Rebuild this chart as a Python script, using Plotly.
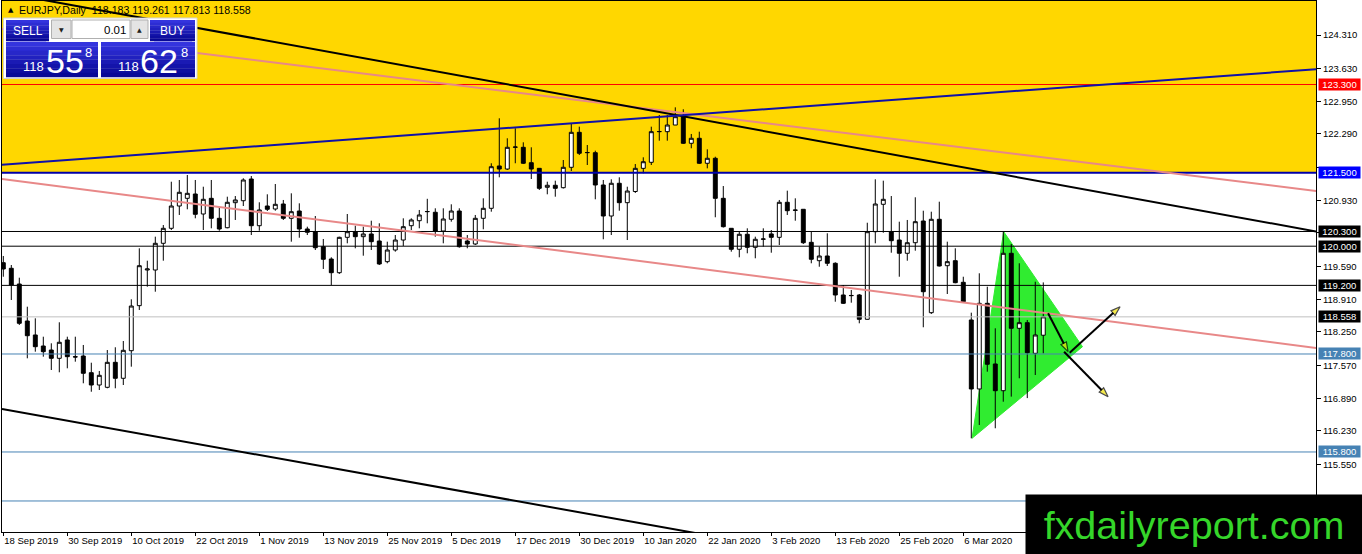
import plotly.graph_objects as go
import pandas as pd

# ---------------- data ----------------
holidays = ["2019-12-25", "2020-01-01"]
dates = [d for d in pd.bdate_range("2019-09-18", "2020-03-20")
         if d.strftime("%Y-%m-%d") not in holidays]

opens = [119.663, 119.549, 119.228, 118.473, 118.188, 117.963, 117.881, 117.712, 118.086, 117.745,
         117.759, 117.418, 117.167, 117.120, 117.630, 117.304, 117.867, 118.786, 119.514, 119.514,
         120.059, 120.365, 120.820, 120.977, 121.065, 120.657, 120.977, 120.569, 120.377, 120.888,
         120.928, 121.371, 120.418, 120.820, 120.759, 120.861, 120.569, 120.718, 120.351, 120.296,
         119.990, 119.738, 119.459, 120.181, 120.296, 120.194, 120.249, 120.106, 119.684, 119.922,
         120.126, 120.418, 120.520, 120.704, 120.692, 120.310, 120.549, 120.718, 120.106, 120.045,
         120.569, 120.773, 121.637, 121.575, 122.018, 122.018, 121.704, 121.589, 121.202, 121.243,
         121.194, 121.610, 122.324, 121.908, 121.908, 121.249, 120.616, 121.284, 120.888, 121.116,
         121.589, 121.712, 122.337, 122.337, 122.473, 122.643, 122.100, 122.202, 121.692, 121.794,
         120.977, 120.365, 119.937, 120.243, 119.977, 120.141, 120.250, 120.181, 120.896, 120.739,
         120.753, 120.079, 119.704, 119.800, 119.651, 119.004, 118.990, 119.004, 118.508, 120.296,
         120.855, 120.296, 120.126, 119.855, 120.071, 120.514, 118.643, 120.549, 119.602, 119.704,
         119.263, 118.494, 117.086, 118.834, 117.596, 117.051, 119.855, 118.324, 118.439, 117.814,
         118.183]
highs = [119.800, 119.616, 119.357, 118.765, 118.528, 118.153, 118.018, 118.447, 118.153, 118.153,
         117.984, 117.622, 117.453, 117.881, 117.937, 118.065, 118.916, 119.957, 119.704, 120.194,
         120.432, 121.316, 121.351, 121.453, 121.351, 121.214, 121.351, 120.800, 121.010, 121.024,
         121.386, 121.432, 120.896, 121.059, 121.269, 120.943, 121.079, 120.875, 120.398, 120.616,
         120.147, 119.773, 120.194, 120.657, 120.418, 120.398, 120.520, 120.467, 120.092, 120.228,
         120.569, 120.569, 120.739, 120.967, 120.773, 120.773, 120.855, 120.773, 120.228, 120.637,
         120.977, 121.692, 122.610, 122.202, 122.406, 122.120, 122.018, 121.596, 121.316, 121.337,
         121.759, 122.508, 122.439, 122.065, 121.949, 121.351, 121.365, 121.406, 121.214, 121.677,
         121.814, 122.439, 122.677, 122.677, 122.834, 122.794, 122.290, 122.337, 121.977, 121.826,
         121.228, 120.365, 120.310, 120.365, 120.194, 120.365, 120.330, 120.943, 121.133, 120.977,
         120.753, 120.296, 119.990, 120.263, 119.671, 119.208, 119.106, 119.024, 120.479, 121.365,
         121.337, 121.024, 120.500, 120.535, 120.998, 120.724, 120.704, 120.908, 120.092, 119.957,
         119.377, 118.643, 119.447, 119.173, 118.324, 120.296, 120.045, 119.651, 118.494, 119.275,
         119.261]
lows = [119.377, 118.902, 118.392, 117.712, 117.847, 117.745, 117.473, 117.426, 117.508, 117.643,
        117.202, 117.030, 117.065, 117.100, 117.100, 117.167, 117.541, 118.698, 119.173, 119.071,
        119.704, 120.330, 120.637, 120.753, 120.569, 120.330, 120.365, 120.316, 120.365, 120.535,
        120.820, 120.228, 120.316, 120.718, 120.724, 120.535, 120.092, 120.173, 120.228, 119.922,
        119.535, 119.208, 119.433, 120.059, 119.957, 119.806, 119.922, 119.616, 119.651, 119.888,
        120.004, 120.330, 120.365, 120.467, 120.194, 120.059, 120.500, 119.969, 119.957, 120.024,
        120.345, 120.704, 121.406, 121.555, 121.692, 121.677, 121.371, 121.147, 121.059, 121.010,
        121.177, 121.535, 121.861, 121.657, 120.957, 120.141, 120.228, 120.724, 120.126, 121.086,
        121.488, 121.657, 122.153, 122.153, 122.473, 122.086, 121.998, 121.677, 121.589, 120.590,
        120.381, 119.888, 119.773, 119.855, 119.753, 119.990, 119.867, 120.024, 120.637, 120.520,
        120.045, 119.651, 119.581, 119.596, 118.867, 118.820, 118.847, 118.426, 118.504, 120.059,
        120.275, 119.867, 119.377, 119.704, 119.908, 118.345, 118.616, 119.586, 119.024, 119.243,
        118.847, 116.079, 116.351, 117.439, 116.284, 116.826, 116.930, 117.304, 116.900, 117.371,
        117.813]
closes = [119.535, 119.208, 118.426, 118.173, 117.949, 117.847, 117.712, 118.039, 117.745, 117.739,
          117.406, 117.167, 117.365, 117.630, 117.304, 117.875, 118.779, 119.602, 119.535, 120.059,
          120.365, 120.820, 121.100, 121.079, 120.651, 120.957, 120.569, 120.351, 120.896, 120.943,
          121.351, 120.418, 120.739, 120.753, 120.855, 120.569, 120.704, 120.351, 120.284, 119.969,
          119.733, 119.459, 120.181, 120.296, 120.194, 120.249, 120.092, 119.637, 119.922, 120.126,
          120.398, 120.535, 120.637, 120.708, 120.310, 120.555, 120.718, 119.990, 120.045, 120.569,
          120.773, 121.622, 121.575, 122.018, 122.024, 121.692, 121.575, 121.181, 121.243, 121.181,
          121.610, 122.324, 121.896, 121.912, 121.249, 120.616, 121.284, 120.888, 121.126, 121.589,
          121.724, 122.337, 122.340, 122.473, 122.643, 122.100, 122.202, 121.692, 121.794, 120.977,
          120.398, 119.937, 120.243, 119.977, 120.141, 120.147, 120.181, 120.896, 120.724, 120.733,
          120.071, 119.733, 119.800, 119.651, 119.004, 118.834, 118.994, 118.508, 120.296, 120.861,
          120.957, 120.112, 119.855, 120.071, 120.500, 119.071, 120.549, 119.596, 119.684, 119.255,
          118.867, 117.086, 118.834, 117.590, 117.051, 119.855, 118.324, 118.439, 117.826, 118.188,
          118.558]

bar_index = list(range(len(dates)))
date_tick_index = bar_index[::8][:16]
date_tick_text = [f"{dates[i].day} {dates[i].strftime('%b %Y')}" for i in date_tick_index]

y_tick_values = [124.310, 123.630, 122.950, 122.290, 121.610, 120.930, 120.270, 119.590,
                 118.910, 118.250, 117.570, 116.890, 116.230, 115.550, 114.870]
y_ticks_hidden = [121.610, 120.270, 114.870]   # covered by the level labels in the original

level_prices = [123.300, 121.500, 120.300, 120.000, 119.200, 118.558, 117.800, 115.800, 114.800]
level_line_colors = ["#FF0000", "#0000A8", "#000000", "#000000", "#000000", "#C0C0C0",
                     "#4682B4", "#4682B4", "#4682B4"]
level_line_widths = [1, 2, 1, 1, 1, 1, 1, 1, 1]
level_label_colors = ["#FF0000", "#0000FF", "#000000", "#000000", "#000000", "#000000",
                      "#4682B4", "#4682B4", "#4682B4"]
level_label_covered = [False] * 8 + [True]   # last one sits behind the logo

zone_bottom = 121.500
zone_top = 125.5

# trend lines: (index0, price0, index1, price1)
trend_blue = [-0.16, 121.663, 164.1, 123.612]
trend_black_upper = [-0.16, 125.179, 164.1, 120.300]
trend_black_lower = [-0.16, 116.677, 164.1, 111.880]
trend_pink_upper = [-0.16, 124.432, 164.1, 121.126]
trend_pink_lower = [-0.16, 121.371, 164.1, 117.924]

triangle_x = [121.09, 125.05, 134.9]
triangle_y = [116.079, 120.296, 117.949]

arrows = [
    [130.6, 118.630, 133.1, 117.847],
    [133.3, 117.826, 139.6, 118.765],
    [132.6, 117.847, 138.1, 116.928],
]

x_range = [-0.1625, 164.09]
y_range = [114.167, 125.004]

# ---------------- layout geometry (pixels) ----------------
W, H = 1362, 554
PL, PR, PT, PB = 2, 1316, 1, 532
FONT = "Liberation Sans, Arial, sans-serif"


def xp(x):
    return (x - PL) / (PR - PL)


def yp(y):
    return (PB - y) / (PB - PT)


fig = go.Figure()

# horizontal levels
for p, c, w in zip(level_prices, level_line_colors, level_line_widths):
    fig.add_trace(go.Scatter(x=x_range, y=[p, p], mode="lines",
                             line=dict(color=c, width=w), hoverinfo="skip"))

# trend lines
for tl, c, w in [(trend_pink_upper, "#E88888", 2), (trend_pink_lower, "#E88888", 2),
                 (trend_black_upper, "#000000", 2), (trend_black_lower, "#000000", 2),
                 (trend_blue, "#1010A8", 2)]:
    fig.add_trace(go.Scatter(x=[tl[0], tl[2]], y=[tl[1], tl[3]], mode="lines",
                             line=dict(color=c, width=w), hoverinfo="skip"))

# candles
fig.add_trace(go.Candlestick(
    x=bar_index, open=opens, high=highs, low=lows, close=closes,
    increasing=dict(line=dict(color="#000000", width=1), fillcolor="#FFFFFF"),
    decreasing=dict(line=dict(color="#000000", width=1), fillcolor="#000000"),
    whiskerwidth=0, hoverinfo="skip"))

# arrows
for a in arrows:
    fig.add_trace(go.Scatter(
        x=[a[0], a[2]], y=[a[1], a[3]], mode="lines+markers",
        line=dict(color="#000000", width=2),
        marker=dict(symbol="arrow", size=[0, 10], angleref="previous",
                    color="#F2E200", line=dict(color="#000000", width=1.2)),
        hoverinfo="skip"))

shapes = []
# yellow zone
shapes.append(dict(type="rect", xref="paper", yref="y", x0=0, x1=1,
                   y0=zone_bottom, y1=zone_top, fillcolor="#FFD700",
                   line=dict(width=0), layer="below"))
# green triangle (behind candles)
tri_path = "M " + " L ".join(f"{x},{y}" for x, y in zip(triangle_x, triangle_y)) + " Z"
shapes.append(dict(type="path", xref="x", yref="y", path=tri_path,
                   fillcolor="#30EC30", line=dict(color="#30EC30", width=1), layer="below"))

# one-click trading panel
def prect(x0, y0, x1, y1, fill, line_color=None, lw=0):
    shapes.append(dict(type="rect", xref="paper", yref="paper",
                       x0=xp(x0), x1=xp(x1), y0=yp(y1), y1=yp(y0),
                       fillcolor=fill,
                       line=dict(color=line_color or fill, width=lw), layer="above"))


def blue_box(x0, y0, x1, y1, n=8):
    top = (52, 52, 222)
    bot = (8, 8, 150)
    h = (y1 - y0) / n
    for k in range(n):
        t = k / (n - 1)
        c = tuple(int(top[j] + (bot[j] - top[j]) * t) for j in range(3))
        prect(x0, y0 + k * h, x1, y0 + (k + 1) * h + 0.3, "rgb(%d,%d,%d)" % c)


prect(3.5, 18, 197, 78.5, "#FFFFFF", "#D0D0D0", 1)
blue_box(6, 20, 49, 41)
blue_box(150, 20, 195, 41)
blue_box(6, 42, 98, 77)
blue_box(101, 42, 195, 77)
prect(51.5, 20, 71, 38.5, "#E4E4E4", "#B0B0B0", 1)
prect(72, 20, 130, 38.5, "#FFFFFF", "#B0B0B0", 1)
prect(131, 20, 148, 38.5, "#E4E4E4", "#B0B0B0", 1)
shapes.append(dict(type="line", xref="paper", yref="paper", x0=xp(10), x1=xp(46),
                   y0=yp(41.5), y1=yp(41.5), line=dict(color="#9090E8", width=1),
                   layer="above"))
shapes.append(dict(type="line", xref="paper", yref="paper", x0=xp(154), x1=xp(192),
                   y0=yp(41.5), y1=yp(41.5), line=dict(color="#9090E8", width=1),
                   layer="above"))

annotations = []


def ptext(x, y, text, size, color="#FFFFFF", xanchor="center", family=FONT):
    annotations.append(dict(xref="paper", yref="paper", x=xp(x), y=yp(y), text=text,
                            showarrow=False, xanchor=xanchor, yanchor="middle",
                            font=dict(family=family, size=size, color=color)))


# header
last_ohlc = f"{opens[-1]:.3f} {highs[-1]:.3f} {lows[-1]:.3f} {closes[-1]:.3f}"
ptext(6, 10, "▲", 7, "#000000", "left", "DejaVu Sans")
ptext(17, 10, "EURJPY,Daily&nbsp;&nbsp;" + last_ohlc, 10.6, "#000000", "left")

bid = 118.558
ask = 118.628
bid_s = f"{bid:.3f}"
ask_s = f"{ask:.3f}"
ptext(27.5, 30.5, "SELL", 12)
ptext(172.5, 30.5, "BUY", 12)
ptext(61.5, 29.5, "▼", 6, "#202020", family="DejaVu Sans")
ptext(139.5, 29.5, "▲", 6, "#202020", family="DejaVu Sans")
ptext(128, 29.5, "0.01", 11.5, "#000000", "right")
ptext(33.5, 66.5, bid_s[:3], 13)
ptext(64.5, 61, bid_s[4:6], 34)
ptext(88, 52, bid_s[6], 13)
ptext(128.5, 66.5, ask_s[:3], 13)
ptext(159, 61, ask_s[4:6], 34)
ptext(184.5, 52, ask_s[6], 13)

# price labels on right axis
for p, c, covered in zip(level_prices, level_label_colors, level_label_covered):
    if covered:
        shapes.append(dict(type="rect", xref="paper", yref="y", x0=xp(1318), x1=xp(1359),
                           y0=p - 5.5 / 49, y1=p + 5.5 / 49, fillcolor=c,
                           line=dict(width=0), layer="above"))
        continue
    annotations.append(dict(xref="paper", yref="y", x=xp(1318), y=p, text=f"{p:.3f}",
                            showarrow=False, xanchor="left", yanchor="middle",
                            width=41, height=11, borderpad=0, bgcolor=c,
                            font=dict(family=FONT, size=9.5, color="#FFFFFF")))

# logo
annotations.append(dict(xref="paper", yref="paper", x=xp(1194), y=yp(524.5),
                        text="fxdailyreport.com", showarrow=False,
                        xanchor="center", yanchor="middle", width=336, height=59,
                        bgcolor="#000000", borderpad=0,
                        font=dict(family=FONT, size=39.5, color="#35D62A")))

fig.update_layout(
    width=W, height=H,
    margin=dict(l=PL, r=W - PR, t=PT, b=H - PB, pad=0),
    paper_bgcolor="#FFFFFF", plot_bgcolor="#FFFFFF",
    showlegend=False,
    shapes=shapes, annotations=annotations,
    xaxis=dict(range=x_range, tickmode="array", tickvals=date_tick_index,
               ticktext=date_tick_text, ticks="outside", ticklen=3, tickcolor="#000000",
               ticklabelposition="outside right",
               tickfont=dict(family=FONT, size=9.5, color="#000000"),
               showgrid=False, zeroline=False, showline=True, linecolor="#000000",
               linewidth=1, mirror=True, rangeslider=dict(visible=False),
               fixedrange=True, automargin=False),
    yaxis=dict(range=y_range, side="right", tickmode="array", tickvals=y_tick_values,
               ticktext=["" if v in y_ticks_hidden else f"{v:.3f}" for v in y_tick_values],
               ticks="outside", ticklen=4,
               tickcolor="#000000", tickfont=dict(family=FONT, size=9.5, color="#000000"),
               showgrid=False, zeroline=False, showline=True, linecolor="#000000",
               linewidth=1, mirror=True, fixedrange=True, automargin=False),
)

fig.write_html("out.html", config={"displayModeBar": False},
               post_script="document.body.style.margin='0px';"
                           "document.body.style.overflow='hidden';")
